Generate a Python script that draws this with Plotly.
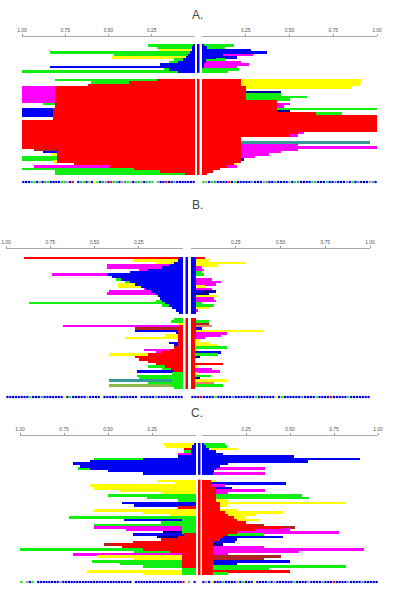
import plotly.graph_objects as go

# colour codes used in the row strings below
COLORS = {
    "r": "#FF0000", "b": "#0000F5", "g": "#11EE11", "y": "#FFFF00",
    "m": "#FF00FF", "c": "#339999", "s": "#E8806A", "n": "#000099",
    "d": "#B22222", "o": "#88BB44", "k": "#999999",
}

# ---------------- panel A ----------------
A_UPPER = 12
A_L_core = [0.01, 0.02, 0.02, 0.03, 0.04, 0.05, 0.07, 0.10, 0.10, 0.17, 0.15, 0.10,
            0.22, 0.38, 0.62, 0.81, 0.81, 0.81, 0.81, 0.81, 0.81, 0.81, 0.81, 0.81,
            0.82, 0.82, 0.82, 0.82, 0.82, 1.0, 1.0, 1.0, 1.0, 1.0, 1.0, 1.0, 1.0,
            1.0, 1.0, 1.0, 1.0, 0.80, 0.80, 0.80, 0.80, 0.80, 0.80, 0.70, 0.49,
            0.35, 0.20, 0.06]
A_L_core_col = "b" * 12 + "r" * 40
A_L_out = [0.27, 0.22, 0.21, 0.84, 0.47, 0.48, 0.12, 0.15, 0.20, 0.84, 0.18, 1.0,
           0.81, 0.60, 0.62, 1.0, 1.0, 1.0, 1.0, 1.0, 1.0, 1.0, 0.88, 0, 1.0, 1.0,
           1.0, 1.0, 0, 0, 0, 0, 0, 0, 0, 0, 0, 0, 0, 0, 0, 0.93, 0.88, 0.83, 1.0,
           1.0, 0.82, 0, 0.93, 1.0, 0.81, 0.81]
A_L_out_col = "ggyggyggbbgg" + "gggmmmmmmmgrbbbbr" + "r" * 12 + "dbyggyrmggg"

A_R_core = [0.01, 0.03, 0.10, 0.15, 0.12, 0.08, 0.02, 0.02, 0.01, 0.01, 0.0, 0.0,
            0.22, 0.22, 0.22, 0.25, 0.25, 0.25, 0.25, 0.25, 0.25, 0.43, 0.43, 0.43,
            0.43, 0.43, 0.65, 1.0, 1.0, 1.0, 1.0, 1.0, 1.0, 1.0, 0.55, 0.50, 0.22,
            0.22, 0.22, 0.22, 0.22, 0.22, 0.22, 0.22, 0.22, 0.22, 0.22, 0.18, 0.14,
            0.10, 0.06, 0.03]
A_R_core_col = "b" * 12 + "r" * 40
A_R_out = [0.18, 0.13, 0.28, 0.37, 0.29, 0.20, 0.13, 0.22, 0.27, 0.20, 0.21, 0.15,
           0.91, 0.91, 0.90, 0.85, 0, 0.45, 0.45, 0.60, 0.50, 0.42, 0.50, 0.47, 1.0,
           0.50, 0.80, 0, 0, 0, 0, 0, 0, 0, 0.58, 0.55, 0, 0, 0.96, 0.55, 1.0, 0.55,
           0.45, 0.38, 0.30, 0.24, 0, 0.20, 0.20, 0, 0, 0]
A_R_out_col = "ggbbmbgmmmgg" + "yyyyrnggggmmgng" + "r" * 7 + "mmrrcmmmmmmbrymrrr"

A_L_code = "bnbbnbbcbnrbbk gcgbkcgbkgckbcgrbkcbgybkbgcb rbkcgbbnbgcbkbgcbnb"
A_R_code = "gkbgcbnbbrbgnbbnbcbnbkcbbcbnbbkbgcbnbbgcbnbgbbcbnbkbgbcbnbkcb"

# ---------------- panel B ----------------
B_UPPER = 24
B_L_core = [0.02, 0.03, 0.05, 0.08, 0.12, 0.20, 0.30, 0.43, 0.40, 0.35, 0.30, 0.27,
            0.24, 0.21, 0.18, 0.16, 0.14, 0.13, 0.12, 0.10, 0.08, 0.06, 0.04, 0.02,
            0, 0, 0, 0.02, 0.03, 0.03, 0.03, 0.03, 0.03, 0.03, 0.03, 0.03, 0.05,
            0.08, 0.12, 0.20, 0.27, 0.25, 0.20, 0.15, 0.10, 0.07, 0.05, 0.06, 0.06,
            0.06, 0.06, 0.06, 0.06, 0.05]
B_L_core_col = "b" * 24 + "r" * 23 + "g" * 7
B_L_out = [0.90, 0.28, 0.15, 0.43, 0.43, 0.25, 0.30, 0.74, 0, 0.38, 0.33, 0.37,
           0.37, 0.22, 0.42, 0.43, 0.16, 0, 0.15, 0.87, 0.12, 0.06, 0, 0,
           0.05, 0.07, 0.03, 0.68, 0.27, 0.27, 0.04, 0.10, 0.33, 0, 0.08, 0.05, 0,
           0.22, 0.15, 0.42, 0, 0, 0, 0, 0.20, 0.12, 0.26, 0, 0.26, 0.25, 0.42,
           0.20, 0.42, 0]
B_L_out_col = "ryymmmmmbggyymmmybgggdbb" + "ggymdbbyyrbbrmmyrrrrggbrggcgor"

B_R_core = [0.03, 0.03, 0.03, 0.03, 0.03, 0.03, 0.03, 0.03, 0.03, 0.03, 0.03, 0.03,
            0.03, 0.03, 0.06, 0.03, 0.03, 0.03, 0.03, 0.03, 0.03, 0.03, 0.03, 0.03,
            0.03, 0.03, 0.03, 0.03, 0.03, 0.03, 0.03, 0.03, 0.03, 0.02, 0.02, 0.02,
            0.02, 0.02, 0.02, 0.02, 0.02, 0.02, 0.02, 0.02, 0.02, 0.02, 0.02, 0.02,
            0.02, 0.02, 0.02, 0.02, 0.02, 0.02]
B_R_core_col = "b" * 24 + "r" * 30
B_R_out = [0.08, 0.10, 0.30, 0.15, 0.06, 0.07, 0.06, 0.07, 0, 0.12, 0.17, 0.14,
           0.08, 0.12, 0.14, 0.10, 0.15, 0.13, 0.14, 0.06, 0.13, 0.10, 0.04, 0.03,
           0, 0.10, 0.10, 0.12, 0.06, 0.41, 0.20, 0.17, 0.08, 0.05, 0.10, 0.15,
           0.20, 0.04, 0.17, 0.15, 0.05, 0.03, 0, 0.18, 0.04, 0.12, 0.16, 0.04,
           0.11, 0.05, 0.20, 0.13, 0.18, 0.02]
B_R_out_col = "ryyymmggbmmmymnnymmggymm" + "rgdsbymmmyyygybgnyrrymmygnysgm"

B_L_code = "bnbbnbbnbcbbnbb bnbbnbgbnbbn bnbbkbbnbbgbybnbbnbbcbnbgbbnbbnbb"
B_R_code = "bnbrbbnbgbbnbbcbnbbnbbgbnbbnbybgnbbnbbcbbnbgbbnbrbbnbbgbnbbnbb"

# ---------------- panel C ----------------
C_UPPER = 13
C_L_core = [0.01, 0.02, 0.03, 0.03, 0.03, 0.10, 0.30, 0.60, 0.68, 0.66, 0.60, 0.50,
            0.30,
            0.06, 0.06, 0.06, 0.06, 0.06, 0.06, 0.06, 0.06, 0.06, 0.10, 0.10, 0.10,
            0.06, 0.06, 0.06, 0.08, 0.08, 0.08, 0.08, 0.08, 0.08, 0.08, 0.07, 0.10,
            0.20, 0.36, 0.47, 0.42, 0.30, 0.15, 0.08, 0.08, 0.08, 0.08, 0.08, 0.08,
            0.08, 0.08, 0.08]
C_L_core_col = "b" * 13 + "yyyyyygggbbryyy" + "g" * 7 + "r" * 14 + "ggg"
C_L_out = [0.18, 0.17, 0.07, 0.07, 0.10, 0, 0.58, 0, 0.70, 0, 0.67, 0, 0,
           0.22, 0.12, 0.60, 0.58, 0.43, 0.20, 0.50, 0.28, 0.10, 0.42, 0.35, 0.10,
           0.58, 0.30, 0.15, 0.72, 0.41, 0.20, 0.58, 0.58, 0.40, 0.19, 0.36, 0.22,
           0, 0, 0.52, 0, 1.0, 0.35, 0.70, 0.56, 0.35, 0.59, 0.43, 0.30, 0, 0.62,
           0.30]
C_L_out_col = "yyrgmbgbbbgbb" + "yyyyyygggbbdyyygbggmmnbnrrdrggmyygggryy"

C_R_core = [0.01, 0.02, 0.04, 0.08, 0.12, 0.30, 0.55, 0.35, 0.15, 0.10, 0.08, 0.07,
            0.06,
            0.05, 0.05, 0.05, 0.08, 0.08, 0.08, 0.08, 0.08, 0.08, 0.10, 0.10, 0.10,
            0.10, 0.13, 0.15, 0.18, 0.20, 0.25, 0.30, 0.45, 0.30, 0.20, 0.15, 0.12,
            0.10, 0.06, 0.06, 0.06, 0.06, 0.06, 0.06, 0.06, 0.06, 0.06, 0.06, 0.06,
            0.06, 0.06, 0.06]
C_R_core_col = "b" * 13 + "r" * 39
C_R_out = [0.13, 0.14, 0.20, 0, 0, 0.52, 0.90, 0.60, 0, 0, 0.36, 0, 0.36,
           0.08, 0.48, 0.13, 0.17, 0.36, 0.15, 0.57, 0.61, 0.15, 0.82, 0.14, 0,
           0.20, 0.46, 0.30, 0.25, 0.33, 0, 0.35, 0.53, 0.50, 0.78, 0.35, 0.46,
           0.20, 0.19, 0.12, 0.35, 0.92, 0.55, 0.15, 0.45, 0.35, 0.50, 0.20, 0.82,
           0.38, 0.50, 0.15]
C_R_out_col = "ggybbbbbbbmbm" + "ybmbmmggyyyryyyyyrddmmgbbbnmmmmddbbggrg"

C_L_code = "b k rbbnbbnbbnbbnbbnbb bnbbnbbnbbnbbnbbnbbnbbnbbkbbnbbnbb gbk g"
C_R_code = "bkbybnbcbbnbkbgbnbybnbbcbkbnbbnbgbnbbkbnbbcbnbrbnbbkbnbbcbnbbn"

W, H = 410, 593

# pixel layout of each panel: axis line, first/last bar row, barcode row,
# left & right axis spans, centre stripe, gap (in rows) between the two groups
PANELS = [
    dict(name="A.", title_y=15, axis=37, top=44, bottom=175, code=182,
         left=(22, 195), right=(202, 377), stripe=(197, 199.5), gap=2.5,
         upper=A_UPPER, L=(A_L_core, A_L_core_col, A_L_out, A_L_out_col, A_L_code),
         R=(A_R_core, A_R_core_col, A_R_out, A_R_out_col, A_R_code)),
    dict(name="B.", title_y=205, axis=249, top=257, bottom=389, code=397,
         left=(6, 183), right=(191, 370), stripe=(185.5, 188), gap=1.7,
         upper=B_UPPER, L=(B_L_core, B_L_core_col, B_L_out, B_L_out_col, B_L_code),
         R=(B_R_core, B_R_core_col, B_R_out, B_R_out_col, B_R_code)),
    dict(name="C.", title_y=413, axis=436, top=443, bottom=575, code=582,
         left=(20, 196), right=(202, 378), stripe=(198, 200.5), gap=2.0,
         upper=C_UPPER, L=(C_L_core, C_L_core_col, C_L_out, C_L_out_col, C_L_code),
         R=(C_R_core, C_R_core_col, C_R_out, C_R_out_col, C_R_code)),
]

fig = go.Figure()
layout = {}

for p, pan in enumerate(PANELS):
    ya = "y" if p == 0 else f"y{p + 1}"
    n_rows = len(pan["L"][0])
    up, gap = pan["upper"], pan["gap"]
    pos = [i if i < up else i + gap for i in range(n_rows)]
    unit = (pan["bottom"] - pan["top"]) / (n_rows + gap)

    def y_at(px):
        return (px - pan["top"]) / unit - 0.5

    dom_bot = pan["code"] + 4
    layout["yaxis" if p == 0 else f"yaxis{p + 1}"] = dict(
        domain=[1 - dom_bot / H, 1 - pan["axis"] / H],
        range=[y_at(dom_bot), y_at(pan["axis"])],
        visible=False, fixedrange=True, automargin=False,
    )

    for s, side in enumerate(["L", "R"]):
        k = 2 * p + s + 1
        xa = "x" if k == 1 else f"x{k}"
        core, core_col, out, out_col, code = pan[side]
        x0, x1 = pan["left"] if side == "L" else pan["right"]
        if side == "L":
            rng, tv = [1, 0], [1, 0.75, 0.5, 0.25]
        else:
            rng, tv = [0, 1], [0.25, 0.5, 0.75, 1]
        layout["xaxis" if k == 1 else f"xaxis{k}"] = dict(
            domain=[x0 / W, x1 / W], anchor=ya, side="top", range=rng,
            tickvals=tv, ticktext=[f"{v:.2f}" for v in tv],
            tickfont=dict(size=5, color="#555555", family="Liberation Sans, Arial"),
            showline=True, linecolor="#AAAAAA", linewidth=1,
            ticks="outside", ticklen=2, tickcolor="#999999",
            showgrid=False, zeroline=False, fixedrange=True, automargin=False,
        )
        # long coloured rows behind, group core on top
        fig.add_trace(go.Bar(
            y=pos, x=out, orientation="h", width=1.08,
            marker=dict(color=[COLORS[c] for c in out_col], line_width=0),
            xaxis=xa, yaxis=ya, hoverinfo="skip",
        ))
        fig.add_trace(go.Bar(
            y=pos, x=core, orientation="h", width=1.08,
            marker=dict(color=[COLORS[c] for c in core_col], line_width=0),
            xaxis=xa, yaxis=ya, hoverinfo="skip",
        ))
        # barcode strip under each half
        cells = [(i, c) for i, c in enumerate(code) if c != " "]
        fig.add_trace(go.Scatter(
            x=[(i + 0.5) / len(code) for i, _ in cells],
            y=[y_at(pan["code"])] * len(cells),
            mode="markers",
            marker=dict(symbol="square", size=2.2, line_width=0,
                        color=[COLORS[c] for _, c in cells]),
            xaxis=xa, yaxis=ya, hoverinfo="skip",
        ))

    # centre stripes for the two groups
    sx0, sx1 = pan["stripe"]
    for (r0, r1), col in [((-0.5, up - 0.5), COLORS["b"]),
                          ((up + gap - 0.5, n_rows + gap - 0.5), COLORS["r"])]:
        fig.add_shape(type="rect", xref="paper", yref=ya,
                      x0=sx0 / W, x1=sx1 / W, y0=r0, y1=r1,
                      fillcolor=col, line_width=0, layer="above")

    fig.add_annotation(text=pan["name"], xref="paper", yref="paper",
                       x=197 / W, y=1 - pan["title_y"] / H,
                       xanchor="center", yanchor="middle", showarrow=False,
                       font=dict(size=12, color="#444444",
                                 family="Liberation Sans, Arial"))

fig.update_layout(
    width=W, height=H,
    margin=dict(l=0, r=0, t=0, b=0, autoexpand=False),
    paper_bgcolor="white", plot_bgcolor="white",
    barmode="overlay", bargap=0, showlegend=False,
    **layout,
)

# the page body has a default 8px margin; drop it so the figure sits at 0,0
fig.write_html("out.html", config={"displayModeBar": False},
               post_script="document.body.style.margin = '0';")
